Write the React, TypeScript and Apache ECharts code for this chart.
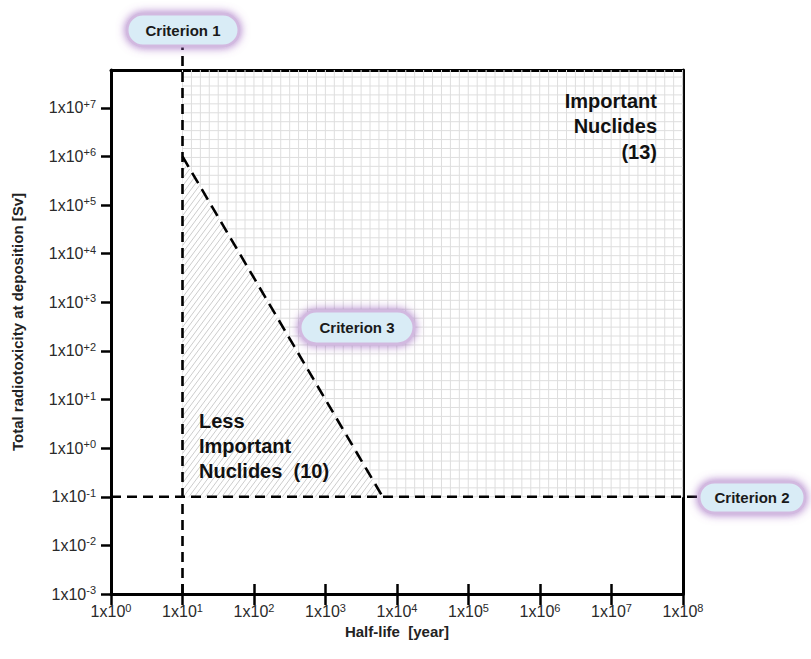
import React, { useEffect, useRef } from 'react';
import * as echarts from 'echarts';

// Axis ticks (decimal exponents)
const xTickExponents = [0, 1, 2, 3, 4, 5, 6, 7, 8];
const yTickExponents = [-3, -2, -1, 0, 1, 2, 3, 4, 5, 6, 7];
const xRange = [1, 1e8]; // half-life, years
const yRange = [1e-3, 6e7]; // total radiotoxicity, Sv

// Criteria
const criterion1HalfLife = 10; // years
const criterion2Radiotox = 0.1; // Sv
const criterion3Line = [
  [10, 1e6],
  [6300, 0.1],
];

// Counts
const importantCount = 13;
const lessImportantCount = 10;

const FONT = 'Arial, "Liberation Sans", sans-serif';

const App = () => {
  const ref = useRef<HTMLDivElement>(null);
  useEffect(() => {
    const chart = echarts.init(ref.current as HTMLDivElement, null, { renderer: 'svg' });
    const lg = Math.log10;
    const c1x = lg(criterion1HalfLife);
    const c2y = lg(criterion2Radiotox);
    const tri = criterion3Line.map(([x, y]) => [lg(x), lg(y)]);

    const xFmt = (v: number) => `{b|1x10}{s|${v}}`;
    const yFmt = (v: number) => `{b|1x10}{s|${v >= 0 ? '+' + v : v}}`;
    const rich = {
      b: { fontSize: 16, fontFamily: FONT, color: '#2a2a2a' },
      s: { fontSize: 11, fontFamily: FONT, color: '#2a2a2a', padding: [0, 0, 8, 0] },
    };

    const backgroundItem = (params: any, api: any) => {
      const cs = params.coordSys;
      const R = cs.x + cs.width;
      const T = cs.y;
      const p1 = api.coord([c1x, c2y]);
      const X1 = p1[0];
      const Y2 = p1[1];
      const A = api.coord(tri[0]);
      const C = api.coord(tri[1]);
      const children: any[] = [];
      const gs = 8.93;
      const gridStyle = { stroke: '#dedede', lineWidth: 1 };
      for (let x = X1; x <= R + 0.1; x += gs) {
        children.push({ type: 'line', shape: { x1: x, y1: T, x2: x, y2: Y2 }, style: gridStyle });
      }
      for (let y = Y2; y >= T - 0.1; y -= gs) {
        children.push({ type: 'line', shape: { x1: X1, y1: y, x2: R, y2: y }, style: gridStyle });
      }
      children.push({
        type: 'polygon',
        shape: { points: [[A[0], A[1]], [A[0], C[1]], [C[0], C[1]]] },
        style: { fill: '#fff' },
      });
      const x1 = A[0];
      const yB = C[1];
      const W = C[0] - x1;
      const H = yB - A[1];
      const s = 1.35;
      const step = 5.5;
      for (let c = -H / s; c < W; c += step) {
        const vmin = Math.max(0, -c * s);
        const vmax = (1 - c / W) / (1 / (s * W) + 1 / H);
        if (vmax > vmin) {
          children.push({
            type: 'line',
            shape: { x1: x1 + c + vmin / s, y1: yB - vmin, x2: x1 + c + vmax / s, y2: yB - vmax },
            style: { stroke: '#cdcdcd', lineWidth: 1 },
          });
        }
      }
      return { type: 'group', children };
    };

    const dashedItem = (params: any, api: any) => {
      const cs = params.coordSys;
      const B = cs.y + cs.height;
      const L = cs.x;
      const p1 = api.coord([c1x, c2y]);
      const A = api.coord(tri[0]);
      const C = api.coord(tri[1]);
      const st = { stroke: '#000', lineWidth: 2.6, lineDash: [10, 6], fill: null };
      return {
        type: 'group',
        children: [
          { type: 'line', shape: { x1: p1[0], y1: 40, x2: p1[0], y2: B }, style: st },
          { type: 'line', shape: { x1: L, y1: p1[1], x2: 740, y2: p1[1] }, style: st },
          { type: 'line', shape: { x1: A[0], y1: A[1], x2: C[0], y2: C[1] }, style: { ...st, lineDash: [12, 7] } },
        ],
      };
    };

    const box = (x: number, y: number, w: number, h: number, label: string) => [
      {
        type: 'rect',
        z: 100,
        shape: { x, y, width: w, height: h, r: h / 2 },
        style: {
          fill: '#d9ecf6',
          stroke: '#d2b9e0',
          lineWidth: 3,
          shadowBlur: 10,
          shadowColor: 'rgba(150,90,185,0.85)',
        },
      },
      {
        type: 'text',
        z: 101,
        x: x + w / 2,
        y: y + h / 2,
        style: {
          text: label,
          align: 'center',
          verticalAlign: 'middle',
          font: `bold 15px ${FONT}`,
          fill: '#1a1a1a',
        },
      },
    ];

    const option: any = {
      animation: false,
      backgroundColor: '#fff',
      grid: { left: 111, top: 70, width: 572, height: 524, containLabel: false },
      xAxis: [
        {
          type: 'value',
          min: lg(xRange[0]),
          max: lg(xRange[1]),
          interval: 1,
          position: 'bottom',
          name: 'Half-life  [year]',
          nameLocation: 'middle',
          nameGap: 12,
          nameTextStyle: { fontFamily: FONT, fontWeight: 'bold', fontSize: 15, color: '#222' },
          axisLine: { show: true, onZero: false, lineStyle: { color: '#000', width: 3 } },
          axisTick: { show: true, inside: false, length: 11, lineStyle: { color: '#000', width: 2.5 } },
          axisLabel: {
            show: true,
            margin: 8,
            formatter: xFmt,
            rich,
            customValues: xTickExponents,
          },
          splitLine: { show: false },
        },
        {
          type: 'value',
          min: lg(xRange[0]),
          max: lg(xRange[1]),
          position: 'top',
          axisLine: { show: true, onZero: false, lineStyle: { color: '#000', width: 3 } },
          axisTick: { show: false },
          axisLabel: { show: false },
          splitLine: { show: false },
        },
        {
          type: 'value',
          min: lg(xRange[0]),
          max: lg(xRange[1]),
          interval: 1,
          position: 'bottom',
          axisLine: { show: false, onZero: false },
          axisTick: { show: true, inside: true, length: 10, lineStyle: { color: '#000', width: 2.5 } },
          axisLabel: { show: false },
          splitLine: { show: false },
        },
      ],
      yAxis: [
        {
          type: 'value',
          min: lg(yRange[0]),
          max: lg(yRange[1]),
          position: 'left',
          name: 'Total radiotoxicity at deposition [Sv]',
          nameLocation: 'middle',
          nameGap: 86,
          nameTextStyle: { fontFamily: FONT, fontWeight: 'bold', fontSize: 15, color: '#222', padding: [0, 0, 0, 20] },
          axisLine: { show: true, onZero: false, lineStyle: { color: '#000', width: 3 } },
          axisTick: { show: true, length: 10, lineStyle: { color: '#000', width: 2.5 }, customValues: yTickExponents },
          axisLabel: { show: true, margin: 15, formatter: yFmt, rich, customValues: yTickExponents },
          splitLine: { show: false },
        },
        {
          type: 'value',
          min: lg(yRange[0]),
          max: lg(yRange[1]),
          position: 'right',
          axisLine: { show: true, onZero: false, lineStyle: { color: '#000', width: 3 } },
          axisTick: { show: false },
          axisLabel: { show: false },
          splitLine: { show: false },
        },
      ],
      series: [
        {
          type: 'custom',
          xAxisIndex: 0,
          yAxisIndex: 0,
          z: 1,
          silent: true,
          data: [[c1x, c2y]],
          encode: { x: 0, y: 1 },
          renderItem: backgroundItem,
        },
        {
          type: 'custom',
          xAxisIndex: 0,
          yAxisIndex: 0,
          z: 5,
          clip: false,
          silent: true,
          data: [[c1x, c2y]],
          encode: { x: 0, y: 1 },
          renderItem: dashedItem,
        },
      ],
      graphic: [
        ...box(127, 14, 112, 32, 'Criterion 1'),
        ...box(300, 311, 114, 33, 'Criterion 3'),
        ...box(699, 482, 106, 31, 'Criterion 2'),
        {
          type: 'text',
          z: 50,
          x: 657,
          y: 88,
          style: {
            text: `Important\nNuclides\n(${importantCount})`,
            align: 'right',
            verticalAlign: 'top',
            font: `bold 20px ${FONT}`,
            lineHeight: 25.5,
            fill: '#111',
          },
        },
        {
          type: 'text',
          z: 50,
          x: 199,
          y: 408,
          style: {
            text: `Less\nImportant\nNuclides  (${lessImportantCount})`,
            align: 'left',
            verticalAlign: 'top',
            font: `bold 20px ${FONT}`,
            lineHeight: 25,
            fill: '#111',
          },
        },
      ],
    };
    chart.setOption(option);
    return () => chart.dispose();
  }, []);
  return (
    <div
      ref={ref}
      style={{ position: 'fixed', left: 0, top: 0, width: 811, height: 659, background: '#fff' }}
    />
  );
};

export default App;
